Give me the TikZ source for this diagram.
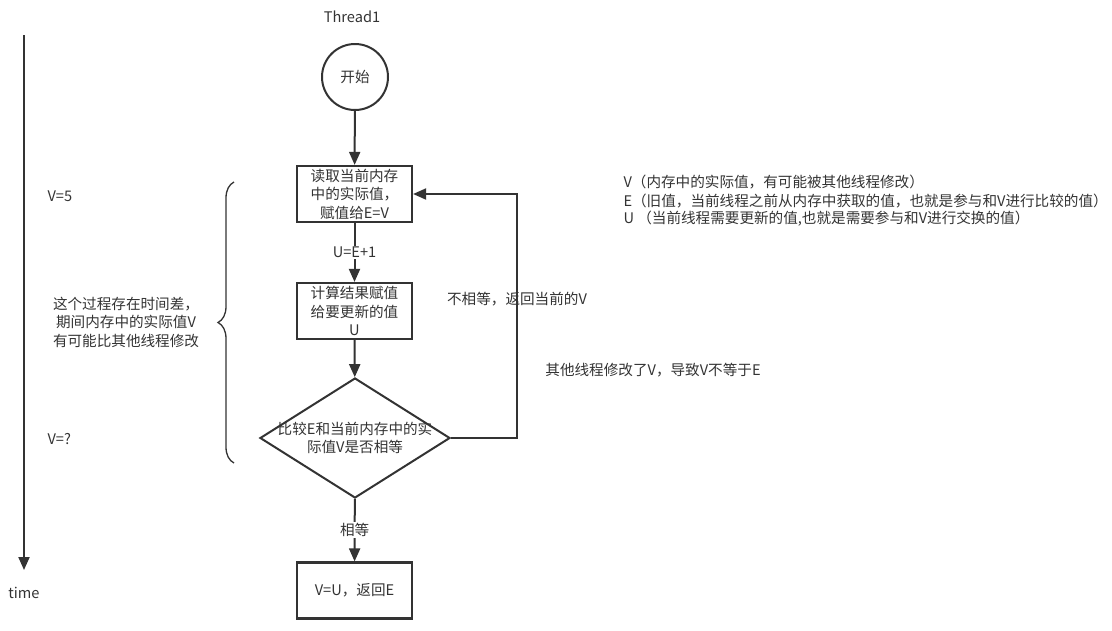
\documentclass[tikz,border=0pt]{standalone}
\usepackage{fontspec}
\setmainfont{Noto Sans CJK SC}
\usetikzlibrary{arrows.meta,shapes.geometric,decorations.pathreplacing}
\definecolor{ink}{HTML}{333333}
\begin{document}
\begin{tikzpicture}[x=1pt,y=-1pt,
  every node/.style={font=\fontsize{14.6}{18.5}\selectfont, text=ink},
  box/.style={draw=ink, line width=2.2pt, minimum width=115pt, minimum height=56pt, inner sep=0pt, align=center},
  conn/.style={draw=ink, line width=2pt, -{Triangle[length=13pt,width=11pt]}},
  plainline/.style={draw=ink, line width=2pt}]
\useasboundingbox (0,0) rectangle (1112,630);
% time axis
\coordinate (t0) at (24,35);
\coordinate (t1) at (24,570);
\draw[conn] (t0) -- (t1);
\node (time) at (24,593) {time};
% flow
\node (thread) at (352,17) {Thread1};
\node[circle, draw=ink, line width=2pt, minimum size=66pt, inner sep=0pt] (start) at (355,77) {开始};
\node[box] (b1) at (354.5,194) {读取当前内存\\中的实际值，\\赋值给E=V};
\node[box] (b2) at (354.5,311) {计算结果赋值\\给要更新的值\\U};
\node[diamond, draw=ink, line width=2pt, minimum width=190pt, minimum height=120pt, inner sep=0pt] (d) at (355,438) {};
\node[align=center] (dt) at (355,438) {比较E和当前内存中的实\\际值V是否相等};
\node[box] (b3) at (354.5,590.5) {V=U，返回E};
\draw[conn] (start) -- (b1);
\draw[conn] (b1) -- node[fill=white, inner sep=1pt] (ulab) {U=E+1} (b2);
\draw[conn] (b2) -- (d);
\draw[conn] (d) -- node[fill=white, inner sep=1pt] (eq) {相等} (b3);
\coordinate (turn) at (517,438);
\draw[conn] (d.east) -- (turn) |- (b1.east);
\node (neq) at (517,299) {不相等，返回当前的V};
\node (other) at (653,370) {其他线程修改了V，导致V不等于E};
% legend
\node[anchor=west] (lv) at (620,182) {V（内存中的实际值，有可能被其他线程修改）};
\node[anchor=west] (le) at (620,201) {E（旧值，当前线程之前从内存中获取的值，也就是参与和V进行比较的值）};
\node[anchor=west] (lu) at (620,219) {U （当前线程需要更新的值,也就是需要参与和V进行交换的值）};
% left annotations
\node[anchor=west] (v5) at (44,196) {V=5};
\node[anchor=west] (vq) at (44,439) {V=?};
\node[align=center] (gap) at (126,322) {这个过程存在时间差，\\期间内存中的实际值V\\有可能比其他线程修改};
\draw[draw=ink, line width=1.3pt, decorate, decoration={brace, amplitude=16pt}] (234,463) -- (234,182);
\end{tikzpicture}
\end{document}
